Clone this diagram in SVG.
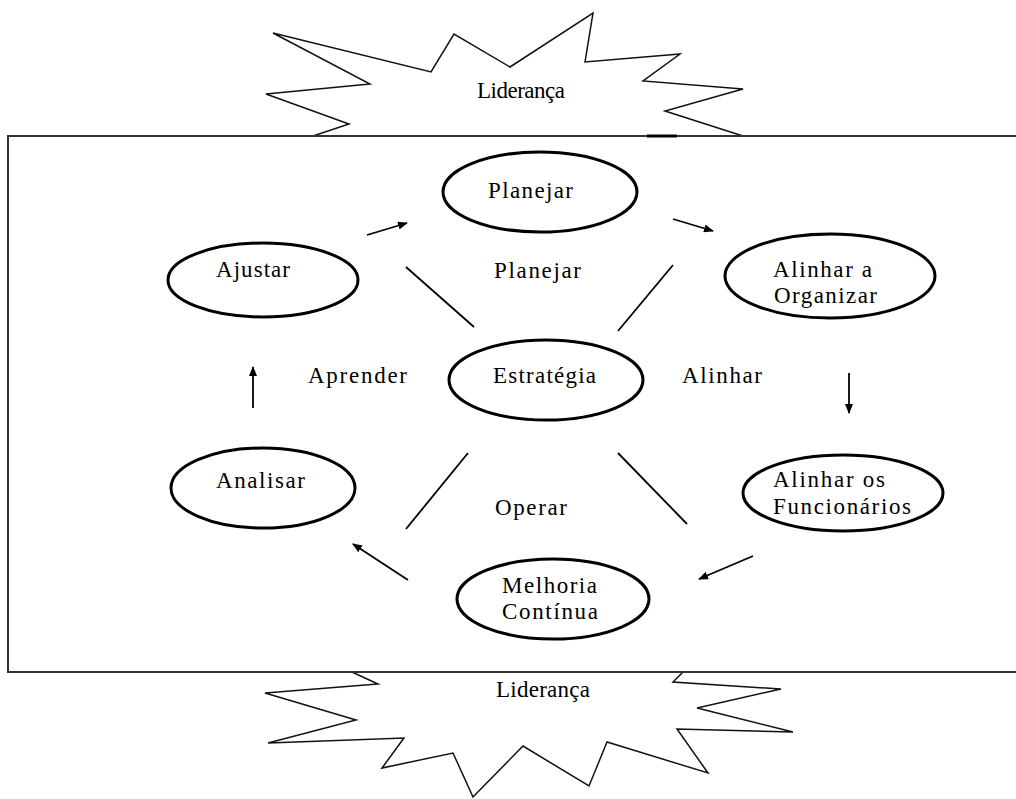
<svg xmlns="http://www.w3.org/2000/svg" width="1016" height="799" viewBox="0 0 1016 799">
<style>
  .t { font-family: "Liberation Serif", Tinos, "Times New Roman", "DejaVu Serif", serif; font-size: 23px; fill: #000; }
  .node ellipse { fill: #fff; stroke: #000; stroke-width: 3; }
  .star { fill: none; stroke: #111; stroke-width: 1.5; stroke-linejoin: miter; }
  .frame { fill: none; stroke: #333; stroke-width: 2; }
  .conn line { stroke: #000; stroke-width: 1.8; }
  .arr { marker-end: url(#ah); }
</style>
<defs>
  <marker id="ah" markerWidth="10" markerHeight="8" refX="9" refY="4" orient="auto" markerUnits="userSpaceOnUse">
    <path d="M0,0 L10,4 L0,8 Z" fill="#000"/>
  </marker>
</defs>
<rect width="1016" height="799" fill="#fff"/>

<g id="lideranca-top">
  <polyline class="star" points="313,136 349,124 266,94 370,84 273,33 431,72 454,34 510,67 593,13 585,62 680,54 643,81 743,89 665,111 743,136"/>
  <text class="t" x="477" y="98" textLength="88" lengthAdjust="spacing">Liderança</text>
</g>
<g id="lideranca-bottom">
  <polyline class="star" points="352,672 378,684 265,693 356,720 268,743 404,738 382,768 453,753 473,797 523,746 589,786 607,742 708,773 677,729 793,732 697,708 781,689 673,682 683,672"/>
  <text class="t" x="496" y="697" textLength="94" lengthAdjust="spacing">Liderança</text>
</g>

<g id="frame">
  <rect class="frame" x="8" y="136" width="1020" height="536"/>
  <line x1="647" y1="136" x2="677" y2="136" stroke="#000" stroke-width="3"/>
</g>

<g id="connectors" class="conn">
  <line class="arr" x1="367" y1="235" x2="407" y2="223"/>
  <line class="arr" x1="673" y1="219" x2="713" y2="231"/>
  <line class="arr" x1="849" y1="373" x2="849" y2="413"/>
  <line class="arr" x1="753" y1="556" x2="699" y2="579"/>
  <line class="arr" x1="408" y1="580" x2="353" y2="544"/>
  <line class="arr" x1="253" y1="408" x2="253" y2="367"/>
  <line x1="406" y1="267" x2="474" y2="327"/>
  <line x1="673" y1="265" x2="618" y2="331"/>
  <line x1="468" y1="453" x2="406" y2="529"/>
  <line x1="618" y1="453" x2="687" y2="524"/>
</g>

<g id="labels">
  <text class="t" x="494" y="278" textLength="87" lengthAdjust="spacing">Planejar</text>
  <text class="t" x="308" y="383" textLength="99" lengthAdjust="spacing">Aprender</text>
  <text class="t" x="682" y="383" textLength="80" lengthAdjust="spacing">Alinhar</text>
  <text class="t" x="495" y="515" textLength="72" lengthAdjust="spacing">Operar</text>
</g>

<g id="node-planejar" class="node">
  <ellipse cx="540" cy="192" rx="97" ry="40"/>
  <text class="t" x="488" y="198" textLength="85" lengthAdjust="spacing">Planejar</text>
</g>
<g id="node-ajustar" class="node">
  <ellipse cx="263" cy="280" rx="95" ry="37"/>
  <text class="t" x="216" y="277" textLength="74" lengthAdjust="spacing">Ajustar</text>
</g>
<g id="node-alinhar-organizar" class="node">
  <ellipse cx="830" cy="276" rx="105" ry="42"/>
  <text class="t" x="773" y="277" textLength="99" lengthAdjust="spacing">Alinhar a</text>
  <text class="t" x="774" y="303" textLength="103" lengthAdjust="spacing">Organizar</text>
</g>
<g id="node-estrategia" class="node">
  <ellipse cx="546" cy="380" rx="97" ry="40"/>
  <text class="t" x="493" y="383" textLength="103" lengthAdjust="spacing">Estratégia</text>
</g>
<g id="node-analisar" class="node">
  <ellipse cx="263" cy="488" rx="92" ry="40"/>
  <text class="t" x="216" y="488" textLength="89" lengthAdjust="spacing">Analisar</text>
</g>
<g id="node-alinhar-funcionarios" class="node">
  <ellipse cx="843" cy="493" rx="100" ry="38"/>
  <text class="t" x="773" y="487" textLength="112" lengthAdjust="spacing">Alinhar os</text>
  <text class="t" x="773" y="514" textLength="138" lengthAdjust="spacing">Funcionários</text>
</g>
<g id="node-melhoria" class="node">
  <ellipse cx="553" cy="599" rx="96" ry="40"/>
  <text class="t" x="502" y="593" textLength="95" lengthAdjust="spacing">Melhoria</text>
  <text class="t" x="502" y="619" textLength="96" lengthAdjust="spacing">Contínua</text>
</g>
</svg>
